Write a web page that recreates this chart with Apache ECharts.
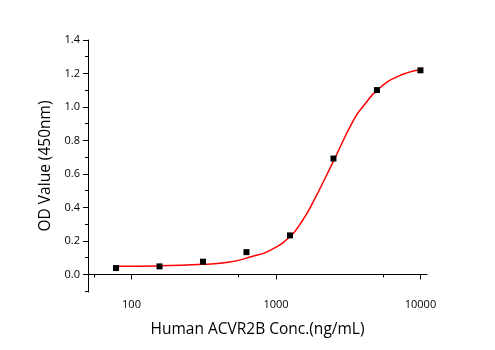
<!DOCTYPE html>
<html>
<head>
<meta charset="utf-8">
<script src="https://cdn.jsdelivr.net/npm/echarts@6/dist/echarts.min.js"></script>
<style>html,body{margin:0;padding:0;background:#fff}#c{width:495px;height:350px}</style>
</head>
<body>
<div id="c"></div>
<script>
const conc = [78.125, 156.25, 312.5, 625, 1250, 2500, 5000, 10000];
const od = [0.038, 0.048, 0.076, 0.133, 0.233, 0.692, 1.101, 1.219];
const curveX = [78, 156, 312, 482, 663, 912, 1256, 1480, 1729, 2512, 3459, 4200, 5023, 6918, 10000];
const curveY = [0.049, 0.051, 0.060, 0.074, 0.104, 0.144, 0.227, 0.305, 0.400, 0.680, 0.925, 1.025, 1.101, 1.181, 1.222];
const xMajorTicks = [100, 1000, 10000];
const xMinorTicks = [55, 550, 5500];
const yMajorTicks = [0, 0.2, 0.4, 0.6, 0.8, 1.0, 1.2, 1.4];
const yMinorTicks = [-0.1, 0.1, 0.3, 0.5, 0.7, 0.9, 1.1, 1.3];

const FONT = 'Open Sans';
const chart = echarts.init(document.getElementById('c'), null, {renderer: 'canvas'});
const xBase = {
  type: 'log', logBase: 10, min: 50, max: 11100, gridIndex: 0,
  splitLine: {show: false}, minorTick: {show: false}, minorSplitLine: {show: false}
};
const yBase = {
  type: 'value', min: -0.105, max: 1.4, gridIndex: 0,
  splitLine: {show: false}, minorTick: {show: false}
};
chart.setOption({
  animation: false,
  backgroundColor: '#fff',
  grid: {left: 88, right: 68, top: 40, bottom: 58, containLabel: false},
  xAxis: [
    Object.assign({}, xBase, {
      position: 'bottom',
      name: 'Human ACVR2B Conc.(ng/mL)', nameLocation: 'middle', nameGap: 30,
      nameTextStyle: {fontFamily: FONT, fontSize: 15.5, color: '#000'},
      axisLine: {show: true, lineStyle: {color: '#000', width: 1}},
      axisTick: {show: true, inside: false, length: 5, customValues: xMajorTicks, lineStyle: {color: '#000'}},
      axisLabel: {show: true, customValues: xMajorTicks, margin: 7, fontFamily: FONT, fontSize: 11, color: '#000',
        formatter: v => String(Math.round(v))}
    }),
    Object.assign({}, xBase, {
      position: 'bottom',
      axisLine: {show: false},
      axisTick: {show: true, inside: false, length: 3, customValues: xMinorTicks, lineStyle: {color: '#000'}},
      axisLabel: {show: false}
    })
  ],
  yAxis: [
    Object.assign({}, yBase, {
      position: 'left',
      name: 'OD Value (450nm)', nameLocation: 'middle', nameGap: 32, nameRotate: 90,
      nameTextStyle: {fontFamily: FONT, fontSize: 15.5, color: '#000'},
      axisLine: {show: true, lineStyle: {color: '#000', width: 1}},
      axisTick: {show: true, inside: false, length: 5, customValues: yMajorTicks, lineStyle: {color: '#000'}},
      axisLabel: {show: true, customValues: yMajorTicks, margin: 8, fontFamily: FONT, fontSize: 11, color: '#000',
        formatter: v => Number(v).toFixed(1)}
    }),
    Object.assign({}, yBase, {
      position: 'left',
      axisLine: {show: false},
      axisTick: {show: true, inside: false, length: 3, customValues: yMinorTicks, lineStyle: {color: '#000'}},
      axisLabel: {show: false}
    })
  ],
  series: [
    {
      type: 'line', xAxisIndex: 0, yAxisIndex: 0,
      data: curveX.map((x, i) => [x, curveY[i]]),
      smooth: 0.5, showSymbol: false, symbol: 'none',
      lineStyle: {color: '#ff0000', width: 1.5}, z: 2, silent: true
    },
    {
      type: 'scatter', xAxisIndex: 0, yAxisIndex: 0,
      data: conc.map((x, i) => [x, od[i]]),
      symbol: 'rect', symbolSize: 6,
      itemStyle: {color: '#000', opacity: 1}, z: 3
    }
  ]
});
</script>
</body>
</html>
